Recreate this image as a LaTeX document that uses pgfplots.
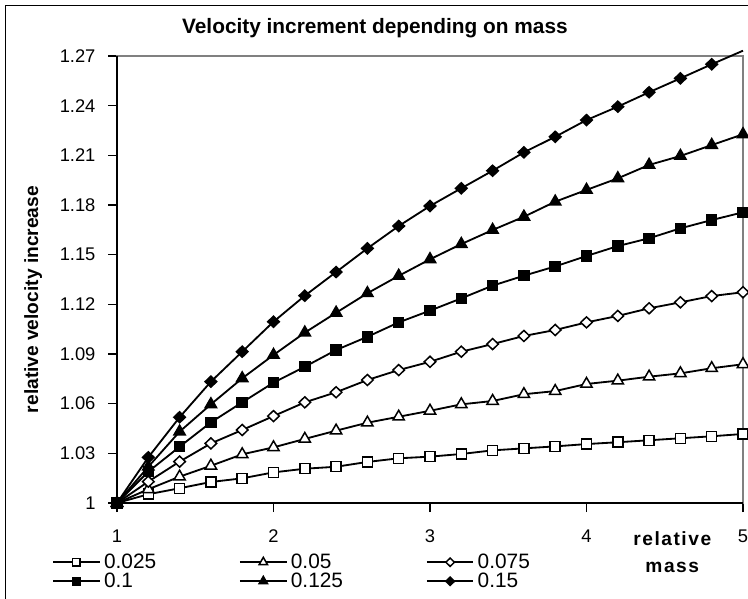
\documentclass[border=0pt]{standalone}
\usepackage{fontspec}
\setmainfont{Liberation Sans}
\usepackage{pgfplots}
\pgfplotsset{compat=1.18}
\begin{document}
\begin{tikzpicture}
\path[use as bounding box] (0pt,0pt) rectangle (448.8pt,358.8pt);
\draw[line width=0.9pt] (3.3pt,-5pt) -- (3.3pt,355.5pt) -- (455pt,355.5pt);
\begin{axis}[
  at={(70.2pt,57pt)}, anchor=south west,
  scale only axis, width=375.6pt, height=268.2pt,
  xmin=1, xmax=5, ymin=1, ymax=1.27,
  clip=false,
  axis line style={draw=gray, line width=0.8pt},
  xtick={1,2,3,4,5},
  ytick={1,1.03,1.06,1.09,1.12,1.15,1.18,1.21,1.24,1.27},
  xtick pos=bottom, ytick pos=left, tick align=outside,
  major tick length=5.4pt,
  tick style={black, line width=0.8pt},
  /pgf/number format/assume math mode=true,
  /pgf/number format/.cd, fixed, precision=2, /pgfplots/.cd,
  tick label style={font=\fontsize{11}{13}\selectfont},
  yticklabel style={xshift=-4pt},
  xticklabel style={yshift=-7pt},
  every axis title shift=0pt,
  title={Velocity increment depending on mass},
  title style={at={(0.412,1.063)}, anchor=center, font=\bfseries\fontsize{12.5}{14}\selectfont},
  ylabel={relative velocity increase},
  ylabel style={at={(-0.134,0.455)}, anchor=center, font=\bfseries\fontsize{11.5}{13}\selectfont},
  xlabel={relative\\[3.5pt]mass},
  xlabel style={at={(0.887,-0.11)}, anchor=center, align=center, font=\bfseries\fontsize{11.5}{13}\selectfont\addfontfeature{LetterSpace=8}},
  legend columns=3,
  legend cell align=left,
  legend style={at={(-0.112,-0.103)}, anchor=north west, draw=none, fill=none,
    font=\fontsize{12.5}{13}\selectfont, nodes={inner xsep=2pt, inner ysep=0.6pt}},
  legend image code/.code={\draw[mark repeat=2,mark phase=2,#1,every mark/.append style={scale=0.75}] plot coordinates {(0pt,0pt) (14pt,0pt) (28pt,0pt)};},
]
\draw[black, line width=1.2pt] (rel axis cs:0,1) -- (rel axis cs:0,0) -- (rel axis cs:1,0);

\addplot[black, line width=1.1pt, mark=square*, mark size=3pt, mark options={fill=white, line width=0.9pt}] coordinates {
(1,1.0000)(1.2,1.0053)(1.4,1.0089)(1.6,1.0127)(1.8,1.0149)(2,1.0185)(2.2,1.0207)(2.4,1.0219)(2.6,1.0248)(2.8,1.0270)(3,1.0280)(3.2,1.0296)(3.4,1.0318)(3.6,1.0330)(3.8,1.0342)(4,1.0356)(4.2,1.0367)(4.4,1.0379)(4.6,1.0391)(4.8,1.0403)(5,1.0417)};
\addlegendentry{\makebox[79pt][l]{0.025}}

\addplot[black, line width=1.1pt, mark=triangle*, mark size=3.9pt, mark options={fill=white, line width=0.9pt}] coordinates {
(1,1.0000)(1.2,1.0083)(1.4,1.0159)(1.6,1.0225)(1.8,1.0294)(2,1.0336)(2.2,1.0387)(2.4,1.0437)(2.6,1.0485)(2.8,1.0521)(3,1.0557)(3.2,1.0596)(3.4,1.0616)(3.6,1.0657)(3.8,1.0676)(4,1.0719)(4.2,1.0739)(4.4,1.0763)(4.6,1.0783)(4.8,1.0814)(5,1.0838)};
\addlegendentry{\makebox[79pt][l]{0.05}}

\addplot[black, line width=1.1pt, mark=diamond*, mark size=3.3pt, mark options={fill=white, line width=0.9pt, xscale=1.4}] coordinates {
(1,1.0000)(1.2,1.0129)(1.4,1.0250)(1.6,1.0360)(1.8,1.0441)(2,1.0525)(2.2,1.0608)(2.4,1.0669)(2.6,1.0743)(2.8,1.0803)(3,1.0853)(3.2,1.0914)(3.4,1.0960)(3.6,1.1009)(3.8,1.1045)(4,1.1091)(4.2,1.1130)(4.4,1.1176)(4.6,1.1212)(4.8,1.1250)(5,1.1273)};
\addlegendentry{\makebox[79pt][l]{0.075}}

\addplot[black, line width=1.1pt, mark=square*, mark size=3pt, mark options={fill=black, line width=0.9pt}] coordinates {
(1,1.0000)(1.2,1.0189)(1.4,1.0340)(1.6,1.0487)(1.8,1.0608)(2,1.0727)(2.2,1.0823)(2.4,1.0924)(2.6,1.1004)(2.8,1.1091)(3,1.1162)(3.2,1.1236)(3.4,1.1313)(3.6,1.1373)(3.8,1.1429)(4,1.1492)(4.2,1.1552)(4.4,1.1599)(4.6,1.1659)(4.8,1.1709)(5,1.1756)};
\addlegendentry{\makebox[79pt][l]{0.1}}

\addplot[black, line width=1.1pt, mark=triangle*, mark size=3.9pt, mark options={fill=black, line width=0.9pt}] coordinates {
(1,1.0000)(1.2,1.0219)(1.4,1.0431)(1.6,1.0596)(1.8,1.0753)(2,1.0894)(2.2,1.1029)(2.4,1.1149)(2.6,1.1267)(2.8,1.1372)(3,1.1472)(3.2,1.1564)(3.4,1.1649)(3.6,1.1729)(3.8,1.1820)(4,1.1891)(4.2,1.1961)(4.4,1.2042)(4.6,1.2096)(4.8,1.2162)(5,1.2227)};
\addlegendentry{\makebox[79pt][l]{0.125}}

\addplot[black, line width=1.1pt, mark=diamond*, mark size=3.3pt, mark options={fill=black, line width=0.9pt, xscale=1.4}] coordinates {
(1,1.0000)(1.2,1.0276)(1.4,1.0518)(1.6,1.0733)(1.8,1.0914)(2,1.1095)(2.2,1.1252)(2.4,1.1395)(2.6,1.1538)(2.8,1.1673)(3,1.1794)(3.2,1.1901)(3.4,1.2007)(3.6,1.2118)(3.8,1.2212)(4,1.2313)(4.2,1.2394)(4.4,1.2481)(4.6,1.2565)(4.8,1.2650)};
\addlegendentry{\makebox[79pt][l]{0.15}}

\addplot[black, line width=1.1pt, no marks, forget plot] coordinates {(4.8,1.2650)(5,1.2732)};
\end{axis}
\end{tikzpicture}
\end{document}
